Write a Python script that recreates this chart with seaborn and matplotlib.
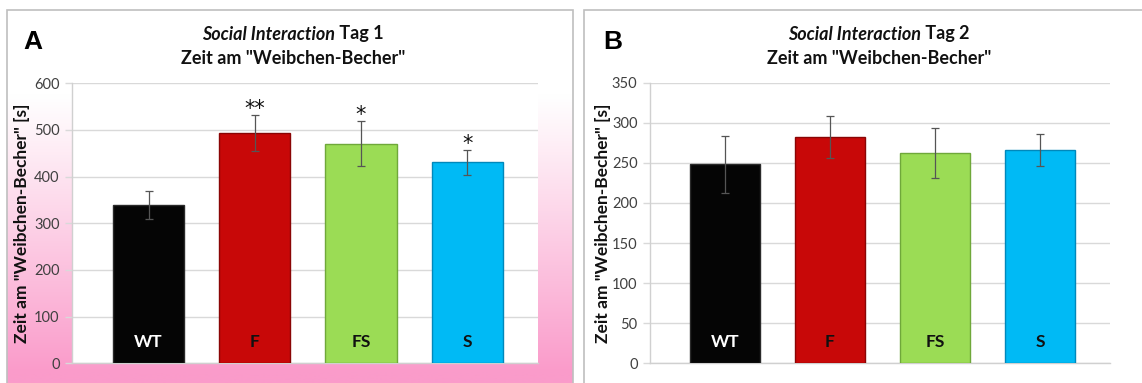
import numpy as np
import pandas as pd
import matplotlib
matplotlib.use("Agg")
import matplotlib.pyplot as plt
from matplotlib.patches import Rectangle
import seaborn as sns

# Groups and measured time at the "female cup" (mean and SEM, seconds)
groups = ["WT", "F", "FS", "S"]
day1_mean = [340, 494, 471, 431]
day1_err = [30, 38, 48, 27]
day1_stars = ["", "**", "*", "*"]
day2_mean = [248, 282, 262, 266.5]
day2_err = [36, 26, 31, 20]
day2_stars = ["", "", "", ""]

bar_colors = ["#050505", "#C80808", "#9BDC55", "#00BAF5"]
edge_colors = ["#2a2a2a", "#8a0505", "#6fa83a", "#0088bb"]
label_colors = ["white", "#111111", "#111111", "#111111"]

sns.set_theme(style="white")
plt.rcParams["font.family"] = ["Lato", "DejaVu Sans"]

W, H = 1142, 383
fig = plt.figure(figsize=(W / 100, H / 100), dpi=100)
fig.patch.set_facecolor("white")


def fx(px):
    return px / W


def fy(py):
    return 1 - py / H


# Pink gradient backdrop behind panel A
bg = fig.add_axes([fx(7), 0, fx(573 - 7), fy(10)], zorder=0)
rows = np.linspace(10, 383, 400)
t = np.clip((rows - 95) / (372 - 95), 0, 1) ** 1.05
pink = np.array([250, 155, 202]) / 255.0
grad = (1 - t)[:, None] * np.ones(3) + t[:, None] * pink
bg.imshow(grad[:, None, :], aspect="auto", extent=[0, 1, 0, 1])
bg.set_axis_off()

# Panel frames
fig.patches.append(Rectangle((fx(7), -0.01), fx(573 - 7), fy(10) + 0.01,
                             transform=fig.transFigure, fill=False,
                             edgecolor="#bfbfbf", lw=1.2, zorder=1))
fig.patches.append(Rectangle((fx(584), -0.01), fx(W - 584 + 5), fy(10) + 0.01,
                             transform=fig.transFigure, fill=False,
                             edgecolor="#bfbfbf", lw=1.2, zorder=1))


def panel(rect, means, errs, stars, ymax, ystep, xlim, letter, letter_x,
          ylabel_x):
    ax = fig.add_axes(rect, zorder=2)
    ax.set_facecolor("white")
    df = pd.DataFrame({"Gruppe": groups, "Zeit": means})
    sns.barplot(data=df, x="Gruppe", y="Zeit", hue="Gruppe", palette=bar_colors,
                saturation=1, width=0.67, errorbar=None, legend=False, ax=ax,
                zorder=3)
    for patch, ec in zip(ax.patches, edge_colors):
        patch.set_edgecolor(ec)
        patch.set_linewidth(1.0)
    ax.errorbar(range(len(groups)), means, yerr=errs, fmt="none",
                ecolor="#555555", elinewidth=0.9, capsize=3, capthick=0.9,
                zorder=4)
    for i, (m, e, s) in enumerate(zip(means, errs, stars)):
        if s:
            ax.annotate(s, (i, m + e), xytext=(0, -3), textcoords="offset points",
                        ha="center", va="bottom", fontsize=15, color="#111111",
                        family=["DejaVu Sans"], zorder=5)
    for i, (g, c) in enumerate(zip(groups, label_colors)):
        ax.text(i, 0.076, g, transform=ax.get_xaxis_transform(), ha="center",
                va="center", fontsize=12.5, fontweight="bold", color=c, zorder=5)
    ax.set_ylim(0, ymax)
    ax.set_xlim(*xlim)
    ticks = np.arange(0, ymax + 1, ystep)
    ax.set_yticks(ticks)
    ax.set_yticklabels([str(int(v)) for v in ticks])
    ax.yaxis.grid(True, color="#d9d9d9", lw=1.0, zorder=0)
    ax.set_axisbelow(True)
    ax.tick_params(axis="y", labelsize=10.5, labelcolor="#404040", length=5,
                   color="#d9d9d9", width=1.0, pad=4, left=True)
    ax.tick_params(axis="x", bottom=False, labelbottom=False)
    ax.set_xlabel("")
    ax.set_ylabel("")
    for side in ["top", "right"]:
        ax.spines[side].set_visible(False)
    for side in ["left", "bottom"]:
        ax.spines[side].set_color("#d0d0d0")
        ax.spines[side].set_linewidth(1.0)

    fig.text(fx(ylabel_x), fy(223), 'Zeit am "Weibchen-Becher" [s]',
             rotation=90, ha="center", va="center", fontsize=12.5,
             fontweight="bold", color="#111111")
    fig.text(fx(letter_x), fy(42), letter, ha="center", va="center",
             fontsize=19, fontweight="bold", color="black",
             family=["Liberation Sans", "DejaVu Sans"])
    return ax


ax1 = panel([fx(72), fy(363.3), fx(538 - 72), (363.3 - 83.3) / H],
            day1_mean, day1_err, day1_stars, 600, 100, (-0.72, 3.665),
            "A", 33, 22)
ax2 = panel([fx(650), fy(363.3), fx(1110 - 650), (363.3 - 82.7) / H],
            day2_mean, day2_err, day2_stars, 350, 50, (-0.714, 3.667),
            "B", 613, 603)

# Two-line titles with italic study name
fig.canvas.draw()
renderer = fig.canvas.get_renderer()
for day, cx in [("Tag 1", 293), ("Tag 2", 879)]:
    t1 = fig.text(0, fy(34), "Social Interaction", style="italic",
                  fontweight="bold", fontsize=13, va="center", ha="left",
                  color="#111111")
    t2 = fig.text(0, fy(34), " " + day, fontweight="bold", fontsize=13,
                  va="center", ha="left", color="#111111")
    w1 = t1.get_window_extent(renderer).width
    w2 = t2.get_window_extent(renderer).width
    left = cx - (w1 + w2) / 2
    t1.set_x(fx(left))
    t2.set_x(fx(left + w1))
    fig.text(fx(cx), fy(58), 'Zeit am "Weibchen-Becher"', fontweight="bold",
             fontsize=13, ha="center", va="center", color="#111111")

fig.savefig("out.png", dpi=100)
